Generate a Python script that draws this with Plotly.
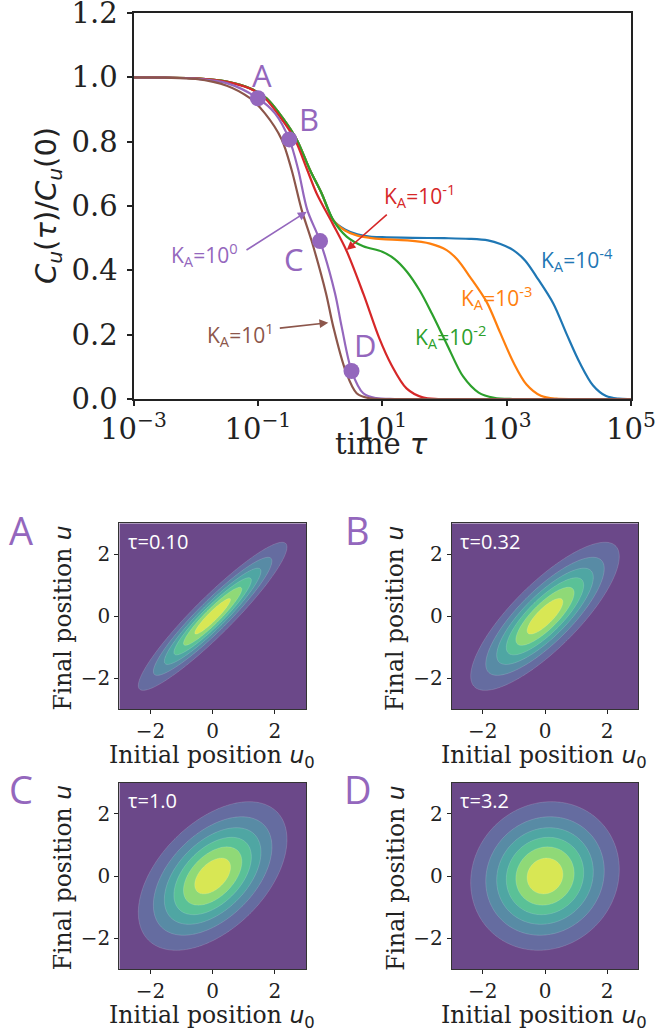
import numpy as np
import plotly.graph_objects as go
from plotly.colors import sample_colorscale

W, H = 657, 1031

# ---------------- main panel data ----------------
x_tickvals = [1e-3, 1e-1, 1e1, 1e3, 1e5]
x_ticktext = ["10<sup>−3</sup>", "10<sup>−1</sup>", "10<sup>1</sup>", "10<sup>3</sup>", "10<sup>5</sup>"]
y_tickvals = [0.0, 0.2, 0.4, 0.6, 0.8, 1.0, 1.2]
y_ticktext = ["0.0", "0.2", "0.4", "0.6", "0.8", "1.0", "1.2"]

series_names = ["K_A=1e-4", "K_A=1e-3", "K_A=1e-2", "K_A=1e-1", "K_A=1e0", "K_A=1e1"]
series_colors = ["#1f77b4", "#ff7f0e", "#2ca02c", "#d62728", "#9467bd", "#8c564b"]

# log10(tau) and C_u(tau)/C_u(0) for each K_A
log_tau_blue = [-3, -2.5, -2, -1.5, -1.13, -0.86, -0.59, -0.376, -0.162, 0.026, 0.212, 0.4, 0.6, 0.8, 1.0, 1.5, 2.0,
                2.4, 2.7, 2.9, 3.106, 3.3, 3.48, 3.75, 3.96, 4.18, 4.39, 4.6, 4.8, 5.0]
val_blue = [1.0, 0.999, 0.997, 0.987, 0.966, 0.935, 0.871, 0.807, 0.712, 0.639, 0.556, 0.527, 0.512, 0.505, 0.503,
            0.501, 0.5, 0.498, 0.493, 0.482, 0.463, 0.43, 0.38, 0.297, 0.204, 0.111, 0.042, 0.009, 0.001, 0.0]

log_tau_orange = [-3, -2.5, -2, -1.5, -1.13, -0.86, -0.59, -0.376, -0.162, 0.026, 0.212, 0.4, 0.6, 0.8, 1.0, 1.4,
                  1.77, 2.035, 2.2, 2.41, 2.678, 2.892, 3.106, 3.32, 3.55, 3.8, 4.2, 5.0]
val_orange = [1.0, 0.999, 0.997, 0.987, 0.966, 0.935, 0.871, 0.807, 0.712, 0.639, 0.556, 0.524, 0.508, 0.501, 0.497,
              0.493, 0.483, 0.463, 0.435, 0.38, 0.302, 0.208, 0.115, 0.045, 0.01, 0.001, 0.0, 0.0]

log_tau_green = [-3, -2.5, -2, -1.5, -1.13, -0.86, -0.59, -0.376, -0.162, 0.026, 0.212, 0.427, 0.695, 1.0, 1.2, 1.4,
                 1.6, 1.8, 2.035, 2.3, 2.55, 2.8, 3.1, 3.6, 5.0]
val_green = [1.0, 0.999, 0.997, 0.987, 0.966, 0.935, 0.871, 0.807, 0.712, 0.639, 0.556, 0.505, 0.475, 0.458, 0.435,
             0.395, 0.338, 0.265, 0.172, 0.07, 0.02, 0.004, 0.0, 0.0, 0.0]

log_tau_red = [-3, -2.5, -2, -1.5, -1.13, -0.886, -0.6, -0.404, -0.206, -0.055, 0.2, 0.427, 0.7, 0.95, 1.15, 1.39,
               1.65, 1.9, 2.3, 3.0, 4.0, 5.0]
val_red = [1.0, 0.999, 0.997, 0.986, 0.965, 0.935, 0.865, 0.807, 0.712, 0.639, 0.546, 0.46, 0.325, 0.19, 0.105, 0.033,
           0.005, 0.0, 0.0, 0.0, 0.0, 0.0]

log_tau_purple = [-3, -2.5, -2, -1.5, -1.0, -0.725, -0.495, -0.35, -0.206, 0.0, 0.24, 0.347, 0.508, 0.695, 0.9, 1.2,
                  1.6, 2.2, 3.0, 4.0, 5.0]
val_purple = [1.0, 0.999, 0.996, 0.982, 0.935, 0.888, 0.807, 0.712, 0.588, 0.491, 0.329, 0.225, 0.087, 0.018, 0.003,
              0.0, 0.0, 0.0, 0.0, 0.0, 0.0]

log_tau_brown = [-3, -2.5, -2, -1.5, -1.127, -0.886, -0.617, -0.457, -0.296, -0.135, 0.095, 0.212, 0.411, 0.588, 0.8,
                 1.1, 1.5, 2.2, 3.0, 4.0, 5.0]
val_brown = [1.0, 0.999, 0.995, 0.974, 0.935, 0.888, 0.807, 0.712, 0.588, 0.491, 0.329, 0.225, 0.087, 0.018, 0.002,
             0.0, 0.0, 0.0, 0.0, 0.0, 0.0]

all_log_tau = [log_tau_blue, log_tau_orange, log_tau_green, log_tau_red, log_tau_purple, log_tau_brown]
all_vals = [val_blue, val_orange, val_green, val_red, val_purple, val_brown]

# marked points A-D on the K_A = 1 curve
point_labels = ["A", "B", "C", "D"]
point_tau = [0.10, 0.32, 1.0, 3.2]
point_val = [0.935, 0.807, 0.491, 0.087]
point_tau_text = ["τ=0.10", "τ=0.32", "τ=1.0", "τ=3.2"]

# ---------------- layout geometry (pixels) ----------------
def px(x):
    return x / W

def py(y):
    return 1 - y / H

main_x = [133.5, 631.0]
main_y = [13.0, 399.0]
panel_x = {"L": [119.3, 306.0], "R": [451.7, 638.3]}
panel_y = {"T": [523.3, 709.3], "B": [782.7, 969.3]}
panel_pos = [("L", "T"), ("R", "T"), ("L", "B"), ("R", "B")]

SERIF = "DejaVu Serif"
SANS = "Open Sans"
INK = "#222222"
PURPLE = "#9467bd"

fig = go.Figure()

# ---------------- main panel ----------------
for lt, v, c, n in zip(all_log_tau, all_vals, series_colors, series_names):
    fig.add_trace(go.Scatter(x=np.power(10.0, lt), y=v, mode="lines", name=n,
                             line=dict(color=c, width=2.2, shape="spline", smoothing=0.9),
                             xaxis="x", yaxis="y", showlegend=False, hoverinfo="skip"))

fig.add_trace(go.Scatter(x=point_tau, y=point_val, mode="markers",
                         marker=dict(color=PURPLE, size=16, line=dict(width=0)),
                         xaxis="x", yaxis="y", showlegend=False, hoverinfo="skip"))

# ---------------- contour panels ----------------
grid = np.linspace(-3, 3, 161)
G0, G1 = np.meshgrid(grid, grid)
s2 = 1.5
n_levels = 6
peak_ratio = 6.7
alpha = 0.8
# band colours: viridis at the normalised band mid-points, drawn semi-transparent on white
vir = sample_colorscale("Viridis", [(k + 0.5) / (n_levels + 1) for k in range(n_levels + 1)], colortype="tuple")
blend = []
for k, col in enumerate(vir):
    r, g, b = [255 * (alpha * ci + (1 - alpha)) for ci in col]
    blend.append([k / n_levels, f"rgb({r:.0f},{g:.0f},{b:.0f})"])

for i, rho in enumerate(point_val):
    ax_id = i + 2
    z = np.exp(-(G0 ** 2 - 2 * rho * G0 * G1 + G1 ** 2) / (2 * s2 * (1 - rho ** 2)))
    d = 1 / peak_ratio
    fig.add_trace(go.Contour(x=grid, y=grid, z=z, xaxis=f"x{ax_id}", yaxis=f"y{ax_id}",
                             contours=dict(start=d, end=n_levels * d, size=d, coloring="fill"),
                             colorscale=blend, showscale=False,
                             line=dict(width=0.6, color="rgba(255,255,255,0.25)"),
                             hoverinfo="skip"))

layout = dict(
    width=W, height=H, margin=dict(l=0, r=0, t=0, b=0, autoexpand=False),
    paper_bgcolor="white", plot_bgcolor="white", showlegend=False,
    xaxis=dict(type="log", range=[-3, 5], domain=[px(main_x[0]), px(main_x[1])], anchor="y",
               tickvals=x_tickvals, ticktext=x_ticktext, ticks="outside", ticklen=5, tickwidth=1.5,
               tickcolor=INK, showline=True, linewidth=2, linecolor=INK, mirror=True, automargin=False,
               ticklabeloverflow="allow", ticklabelstandoff=-2,
               showgrid=False, zeroline=False, tickfont=dict(family=SERIF, size=29, color=INK)),
    yaxis=dict(range=[0, 1.2], domain=[py(main_y[1]), py(main_y[0])], anchor="x",
               tickvals=y_tickvals, ticktext=y_ticktext, ticks="outside", ticklen=5, tickwidth=1.5,
               tickcolor=INK, showline=True, linewidth=2, linecolor=INK, mirror=True, automargin=False,
               ticklabeloverflow="allow",
               showgrid=False, zeroline=False, tickfont=dict(family=SERIF, size=29, color=INK),
               ticklabelstandoff=3),
)
for i, (cx, cy) in enumerate(panel_pos):
    k = i + 2
    common = dict(range=[-3, 3], tickvals=[-2, 0, 2], ticks="outside", ticklen=4, tickwidth=1,
                  tickcolor=INK, showline=True, linewidth=1, linecolor="#333333", mirror=True, automargin=False,
                  ticklabeloverflow="allow",
                  showgrid=False, zeroline=False, tickfont=dict(family=SERIF, size=20, color=INK))
    layout[f"xaxis{k}"] = dict(domain=[px(panel_x[cx][0]), px(panel_x[cx][1])], anchor=f"y{k}", **common)
    layout[f"yaxis{k}"] = dict(domain=[py(panel_y[cy][1]), py(panel_y[cy][0])], anchor=f"x{k}", **common)
fig.update_layout(**layout)

ann = []

def text_ann(text, x, y, size, color, family, angle=0):
    return dict(text=text, xref="paper", yref="paper", x=px(x), y=py(y), xanchor="center", yanchor="middle",
                textangle=angle, showarrow=False, font=dict(family=family, size=size, color=color))

# axis titles of main panel
ann.append(text_ann("<i>C<sub>u</sub></i>(<i>τ</i>)/<i>C<sub>u</sub></i>(0)", 48, 206, 29, INK, "DejaVu Sans",
                    angle=-90))
ann.append(text_ann("time <span style='font-family:DejaVu Sans'><i>τ</i></span>", 381, 444, 29, INK, SERIF))

# K_A labels (text) and arrows
ka_text = ["K<sub>A</sub>=10<sup>-4</sup>", "K<sub>A</sub>=10<sup>-3</sup>", "K<sub>A</sub>=10<sup>-2</sup>",
           "K<sub>A</sub>=10<sup>-1</sup>", "K<sub>A</sub>=10<sup>0</sup>", "K<sub>A</sub>=10<sup>1</sup>"]
ka_pos = [(577, 260), (496, 297), (450, 336), (419, 195), (204, 254), (240, 334)]
for t, (x0, y0), c in zip(ka_text, ka_pos, series_colors):
    ann.append(text_ann(t, x0, y0, 21, c, SANS))
arrows = [((388.3, 213.3), (346.7, 250.0), series_colors[3]),
          ((245.0, 251.0), (306.7, 211.7), series_colors[4]),
          ((278.3, 328.3), (328.3, 322.7), series_colors[5])]
for (tx, ty), (hx, hy), c in arrows:
    ann.append(dict(text="", xref="paper", yref="paper", x=px(hx), y=py(hy), ax=tx - hx, ay=ty - hy,
                    showarrow=True, arrowhead=2, arrowsize=1.1, arrowwidth=1.6, arrowcolor=c, standoff=0))

# A-D letters on main panel
main_letter_pos = [(262, 75), (309, 119), (294, 259), (365, 345)]
for t, (x0, y0) in zip(point_labels, main_letter_pos):
    ann.append(text_ann(t, x0, y0, 31, PURPLE, SANS))

# panel letters, tau texts and axis titles
big_letter_pos = [(21, 530), (357, 530), (21, 789), (358, 789)]
for i, (cx, cy) in enumerate(panel_pos):
    k = i + 2
    bx, by = big_letter_pos[i]
    ann.append(text_ann(point_labels[i], bx, by, 38, PURPLE, SANS))
    ann.append(dict(text=point_tau_text[i], xref=f"x{k} domain", yref=f"y{k} domain", x=0.035, y=0.985,
                    xanchor="left", yanchor="top", showarrow=False,
                    font=dict(family=SANS, size=20, color="white")))
    x0, x1 = panel_x[cx]
    y0, y1 = panel_y[cy]
    ann.append(text_ann("Initial position <span style='font-family:DejaVu Sans'><i>u</i><sub>0</sub></span>",
                        (x0 + x1) / 2 - 1, y1 + 47, 23.5, INK, SERIF))
    ann.append(text_ann("Final position <span style='font-family:DejaVu Sans'><i>u</i></span>",
                        x0 - 56, (y0 + y1) / 2 + 2, 23.5, INK, SERIF, angle=-90))

fig.update_layout(annotations=ann)
fig.write_html("out.html")
